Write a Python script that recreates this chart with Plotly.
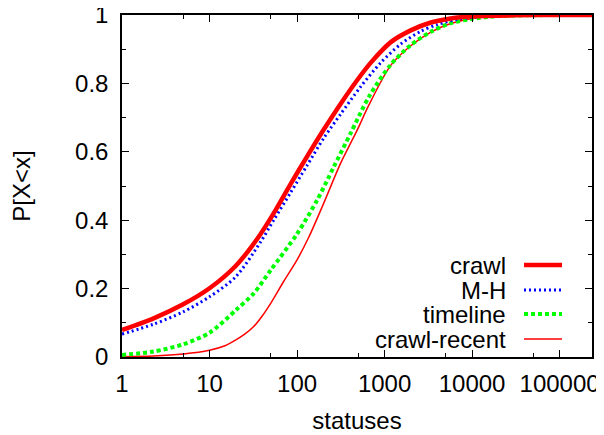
import plotly.graph_objects as go

# ---- data ----
crawl_x = [1, 2.3, 5, 10, 20, 35, 54, 84, 130, 202, 314, 488, 693, 1170, 1990, 3380, 5700, 10000, 30000, 100000, 234000]
crawl_y = [0.079, 0.113, 0.154, 0.201, 0.267, 0.345, 0.42, 0.505, 0.586, 0.665, 0.74, 0.81, 0.86, 0.92, 0.955, 0.978, 0.99, 0.996, 0.999, 1.0, 1.0]

mh_x = [1, 2.3, 5, 10, 20, 38, 54, 84, 130, 202, 314, 532, 900, 1530, 2580, 4000, 7000, 15000, 60000]
mh_y = [0.067, 0.096, 0.132, 0.176, 0.235, 0.335, 0.40, 0.48, 0.56, 0.64, 0.71, 0.79, 0.86, 0.915, 0.952, 0.972, 0.988, 0.997, 1.0]

timeline_x = [1, 2.3, 5, 10, 20, 32, 50, 100, 170, 263, 409, 663, 1170, 1990, 3380, 5700, 9600, 20000, 134000]
timeline_y = [0.006, 0.016, 0.037, 0.071, 0.137, 0.186, 0.254, 0.36, 0.459, 0.556, 0.654, 0.761, 0.854, 0.912, 0.951, 0.976, 0.988, 0.997, 1.0]

recent_x = [1, 2.3, 5, 10, 15, 20, 25, 32, 40, 50, 70, 100, 136, 202, 314, 488, 663, 1170, 1990, 3380, 5700, 10000, 30000, 234000]
recent_y = [0.001, 0.003, 0.009, 0.02, 0.033, 0.05, 0.066, 0.089, 0.12, 0.157, 0.22, 0.284, 0.35, 0.45, 0.566, 0.664, 0.737, 0.852, 0.91, 0.95, 0.975, 0.99, 0.999, 1.0]

x_range_log = [0, 5.37]
x_tickvals = [1, 10, 100, 1000, 10000, 100000]
x_ticktext = ["1", "10", "100", "1000", "10000", "100000"]
x_minor = [5, 50, 500, 5000, 50000]
y_tickvals = [0, 0.2, 0.4, 0.6, 0.8, 1.0]
y_ticktext = ["0", "0.2", "0.4", "0.6", "0.8", "1"]
series_names = ["crawl", "M-H", "timeline", "crawl-recent"]

FONT = "Liberation Sans, Arial, sans-serif"
FS = 24

styles = [
    dict(color="#ff0000", width=4.5, dash="solid"),
    dict(color="#0000ff", width=3, dash="2px,3px"),
    dict(color="#00ff00", width=4, dash="4px,3px"),
    dict(color="#ff0000", width=1.5, dash="solid"),
]

fig = go.Figure()
data = [(crawl_x, crawl_y), (mh_x, mh_y), (timeline_x, timeline_y), (recent_x, recent_y)]
order = [3, 2, 1, 0]
for i in order:
    xs, ys = data[i]
    fig.add_trace(go.Scatter(x=xs, y=ys, mode="lines", name=series_names[i],
                             line=dict(shape="spline", smoothing=0.8, **styles[i]),
                             showlegend=False))

# figure is placed by the page at an 8px body offset; work in figure coords
FW, FH = 596, 427
L, R, T, B = 114, 584, 7, 349
W, H = R - L, B - T
def px(xp): return (xp - L) / W
def py(yp): return (B - yp) / H
rows = [257, 282, 306, 331]
for name, st, yr in zip(series_names, styles, rows):
    fig.add_annotation(x=px(500), y=py(yr), xref="paper", yref="paper", text=name,
                       showarrow=False, xanchor="right", yanchor="middle", height=24,
                       font=dict(family=FONT, size=FS, color="black"))
    fig.add_shape(type="line", xref="paper", yref="paper",
                  x0=px(516), x1=px(554), y0=py(yr), y1=py(yr),
                  line=dict(color=st["color"], width=st["width"], dash=st["dash"]))

fig.update_layout(
    width=FW, height=FH,
    margin=dict(l=L, r=FW - R, t=T, b=FH - B, autoexpand=False),
    plot_bgcolor="white", paper_bgcolor="white",
    font=dict(family=FONT, size=FS, color="black"),
)
fig.update_xaxes(
    type="log", range=x_range_log, automargin=False,
    tickvals=x_tickvals, ticktext=x_ticktext, ticklabeloverflow="allow",
    ticks="inside", ticklen=7, tickwidth=1, tickcolor="black",
    minor=dict(tickvals=x_minor, ticks="inside", ticklen=4, tickcolor="black"),
    showline=True, linecolor="black", linewidth=1.5, mirror="allticks",
    showgrid=False, zeroline=False,
    ticklabelstandoff=4,
    title=dict(text="statuses", standoff=17, font=dict(size=FS)),
)
fig.update_yaxes(
    range=[0, 1], automargin=False,
    tickvals=y_tickvals, ticktext=y_ticktext, ticklabeloverflow="allow",
    ticks="inside", ticklen=7, tickwidth=1, tickcolor="black",
    minor=dict(dtick=0.1, ticks="inside", ticklen=4, tickcolor="black"),
    showline=True, linecolor="black", linewidth=1.5, mirror="allticks",
    showgrid=False, zeroline=False,
    ticklabelstandoff=7,
    title=dict(text="P[X<x]", standoff=42, font=dict(size=FS)),
)

fig.write_html("out.html")
